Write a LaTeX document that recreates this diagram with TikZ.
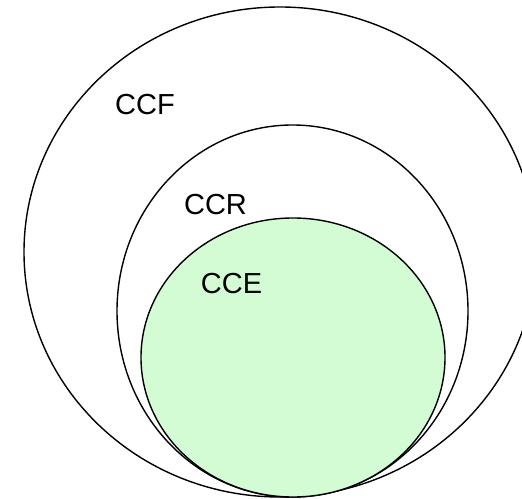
\documentclass[tikz,border=0pt]{standalone}
\usepackage{fontspec}
\setmainfont{Liberation Sans}
\definecolor{cegreen}{RGB}{212,252,212}
\begin{document}
\begin{tikzpicture}[x=1pt,y=1pt,
  ring/.style={draw=black,line width=1.4pt},
  lbl/.style={font=\fontsize{29}{34}\selectfont,inner sep=0pt}]
\useasboundingbox (0,0) rectangle (522,498);
\clip (0,0) rectangle (522,498);
\fill[white] (0,0) rectangle (522,498);
\draw[ring] (280,246) ellipse [x radius=256, y radius=245];
\draw[ring] (292.5,187) ellipse [x radius=175.5, y radius=186];
\draw[ring,fill=cegreen] (293,140.5) ellipse [x radius=152, y radius=139.5];
\node[lbl] (ccf) at (145,393.5) {CCF};
\node[lbl] (ccr) at (215.5,293) {CCR};
\node[lbl] (cce) at (231.5,214) {CCE};
\end{tikzpicture}
\end{document}
